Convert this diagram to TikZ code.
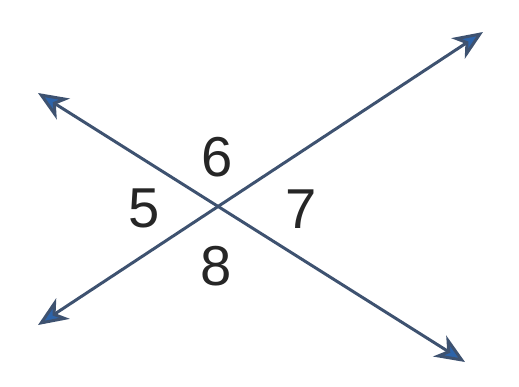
\documentclass[tikz,border=0pt]{standalone}
\usepackage{fontspec}
\setmainfont{Liberation Sans}
\usepackage{tikz}
\usetikzlibrary{arrows.meta}
\definecolor{linedark}{RGB}{62,82,112}
\definecolor{tipblue}{RGB}{45,100,170}

\begin{document}
\begin{tikzpicture}[x=0.02cm, y=-0.02cm,
  ray/.style={linedark, line width=1.7pt, {Stealth[length=17pt,width=14pt,inset=5pt,fill=tipblue]}-{Stealth[length=17pt,width=14pt,inset=5pt,fill=tipblue]}},
  anglab/.style={font=\fontsize{32}{32}\selectfont, text=black!85, inner sep=0pt}]
  \useasboundingbox (0,0) rectangle (519,386);
  % end points of the two crossing lines
  \coordinate (a1) at (38,93);
  \coordinate (a2) at (465,362);
  \coordinate (b1) at (38,325);
  \coordinate (b2) at (483,32);
  \draw[ray] (a1) -- (a2);
  \draw[ray] (b1) -- (b2);
  % angle numbers round the crossing
  \node[anglab] (n6) at (217,157) {6};
  \node[anglab] (n5) at (144,208) {5};
  \node[anglab] (n7) at (301,209) {7};
  \node[anglab] (n8) at (216,266) {8};
\end{tikzpicture}
\end{document}
